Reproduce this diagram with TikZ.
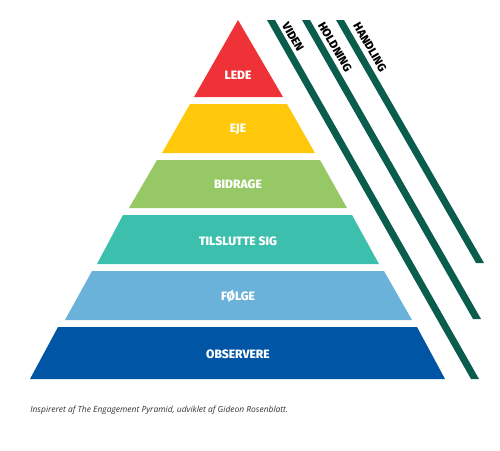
\documentclass[tikz,border=0pt]{standalone}
\usepackage{fontspec}
\setmainfont{Fira Sans}[BoldFont={Fira Sans ExtraBold}]
\newfontfamily\notefont{Open Sans}
\definecolor{ledecol}{HTML}{EE3237}
\definecolor{ejecol}{HTML}{FFC80B}
\definecolor{bidragecol}{HTML}{96C966}
\definecolor{tilslutcol}{HTML}{3DBFAD}
\definecolor{folgecol}{HTML}{6AB2DA}
\definecolor{observercol}{HTML}{0055A4}
\definecolor{bandcol}{HTML}{0A5C4C}
\tikzset{
  tierlabel/.style={font=\fontsize{6.9}{7}\selectfont\bfseries, text=white},
  bandlabel/.style={font=\fontsize{6.6}{7}\selectfont\bfseries, text=black, rotate=-60, inner sep=1pt},
  band/.style={fill=bandcol}
}
\begin{document}
\begin{tikzpicture}[x=0.02cm, y=-0.02cm, line join=round]
	\useasboundingbox (0,0) rectangle (500,450);
	% 1. Pyramidens trin (nedefra og op)
	\fill[observercol] (58,327) -- (417,327) -- (445,379) -- (30,379) -- cycle;
	\fill[folgecol] (92,271) -- (384,271) -- (412,320) -- (65,320) -- cycle;
	\fill[tilslutcol] (123,215) -- (352,215) -- (379,264) -- (97,264) -- cycle;
	\fill[bidragecol] (157,160) -- (320,160) -- (347,208) -- (129,208) -- cycle;
	\fill[ejecol] (190,104) -- (287,104) -- (315,153) -- (162,153) -- cycle;
	\fill[ledecol] (238,20) -- (283,97) -- (194,97) -- cycle;
	
	% 2. Tekst paa trinene
	\node[tierlabel] (lede) at (238,75) {LEDE};
	\node[tierlabel] (eje) at (238,129) {EJE};
	\node[tierlabel] (bidrage) at (238,184) {BIDRAGE};
	\node[tierlabel] (tilslut) at (238,241) {TILSLUTTE SIG};
	\node[tierlabel] (folge) at (238,296) {FØLGE};
	\node[tierlabel] (observer) at (238,354) {OBSERVERE};
	
	% 3. De skraa baand
	\fill[band] (267,20) -- (275,20) -- (479,379) -- (471,379) -- cycle; % viden
	\fill[band] (302,20) -- (310,20) -- (481,319) -- (473,319) -- cycle; % holdning
	\fill[band] (336,20) -- (344,20) -- (484,263) -- (476,263) -- cycle; % handling
	\node[bandlabel] (viden) at (293,37) {VIDEN};
	\node[bandlabel] (holdning) at (335,47) {HOLDNING};
	\node[bandlabel] (handling) at (370,47) {HANDLING};
	
	% 4. Kilde
	\node[anchor=west, inner sep=0pt, text=black!80, font=\notefont\itshape\fontsize{4.8}{5}\selectfont] (kilde) at (30,410)
	{Inspireret af The Engagement Pyramid, udviklet af Gideon Rosenblatt.};
\end{tikzpicture}
\end{document}
